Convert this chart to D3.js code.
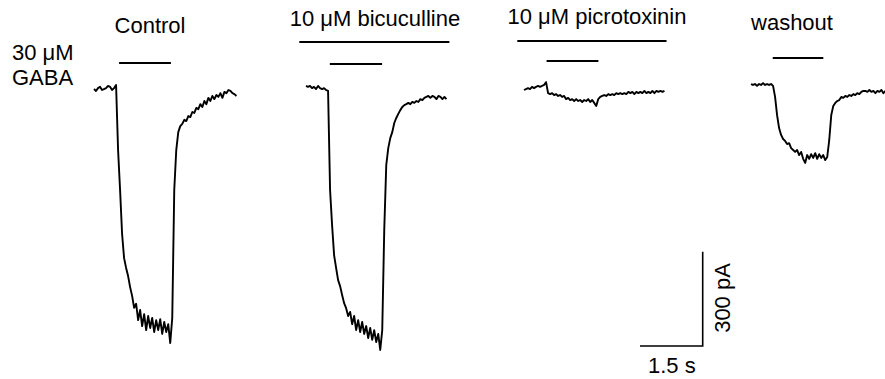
<!DOCTYPE html>
<html lang="en">
<head>
<meta charset="UTF-8">
<title>GABA currents</title>
<script src="https://d3js.org/d3.v7.min.js"></script>
<style>
  body { margin: 0; background: #fff; }
  text { font-family: "Liberation Sans", Arial, sans-serif; font-size: 22px; fill: #000; }
</style>
</head>
<body>
<div id="chart"></div>
<script>

// sampling interval of the traces (s)
var dt = 0.048;

// panel titles
var labels = ["Control", "10 \u03bcM bicuculline", "10 \u03bcM picrotoxinin", "washout"];

// current (pA), one sample every dt
var control = [3, -3, 6, 10, 0, 3, 6, 13, 10, 0, 6, 16,
  -191, -318, -458, -535, -566, -592, -627, -655, -693, -680, -732, -700,
  -751, -713, -764, -719, -757, -725, -770, -732, -764, -729, -776, -738,
  -770, -745, -805, -725, -318, -191, -134, -115, -108, -95, -99, -83,
  -86, -70, -73, -57, -61, -45, -54, -35, -45, -25, -35, -19, -29, -16,
  -22, -10, -25, -6, -10, 0, -3, -10, -13, -19];

var bicuculline = [13, 10, 13, 6, 10, 3, 13, 6, 3, 6, 0, -3,
  -318, -430, -525, -566, -605, -624, -652, -678, -694, -719, -706, -745,
  -719, -764, -732, -770, -738, -776, -751, -789, -757, -795, -764, -802,
  -776, -827, -764, -445, -239, -185, -153, -134, -105, -89, -76, -64,
  -54, -48, -45, -41, -45, -38, -41, -35, -38, -29, -32, -25, -22, -19,
  -25, -19, -22, -29, -19, -22, -29, -22, -29];

var picrotoxinin = [0, 3, 6, 3, 10, 6, 10, 13, 10, 13, 16, 25,
  -10, -13, -10, -16, -13, -19, -16, -22, -19, -29, -25, -32, -29, -35,
  -29, -35, -32, -38, -32, -35, -29, -38, -32, -41, -51, -29, -22, -19,
  -16, -19, -13, -16, -13, -16, -10, -13, -10, -13, -10, -13, -6, -10,
  -6, -13, -6, -10, -6, -10, -3, -10, -6, -10, -3, -10, -3, -6, -3, -6, -3];

var washout = [19, 16, 19, 13, 19, 16, 22, 16, 19, 16, 19, 13,
  -22, -80, -121, -143, -156, -162, -172, -169, -185, -191, -197, -191,
  -207, -197, -219, -232, -207, -219, -204, -216, -201, -219, -204, -216,
  -207, -223, -213, -159, -80, -51, -41, -35, -32, -22, -25, -19, -22,
  -16, -19, -13, -16, -10, -13, -6, -3, -3, -6, 0, -6, -3, -10, -3, -6,
  0, -10, -3];

var traces = [control, bicuculline, picrotoxinin, washout];

// GABA application (s from trace start) and drug application
var gabaOn = [0.60, 0.57, 0.54, 0.52];
var gabaOff = [1.84, 1.82, 1.78, 1.73];
var drugOn = [null, -0.16, -0.16, null];
var drugOff = [null, 3.43, 3.41, null];

// scale bar
var barTime = 1.5, barCurrent = 300;

// layout
var panelX = [94, 306, 524, 751];
var gabaY = [63, 64, 61, 58];
var drugY = [null, 42, 41, null];
var labelX = [150, 375, 597, 792];
var labelY = [33, 26, 24, 30];

var width = 885, height = 379;

var svg = d3.select("#chart")
  .append("svg")
    .attr("width", width)
    .attr("height", height);

// 41.8 px per second, 94.3 px per 300 pA
var x = d3.scaleLinear().domain([0, 1]).range([0, 41.8]);
var y = d3.scaleLinear().domain([0, -300]).range([90, 184.3]);

var line = d3.line()
  .x(function (d, i) { return x(i * dt); })
  .y(function (d) { return y(d); });

var panels = svg.selectAll(".panel")
  .data(traces)
  .enter()
  .append("g")
    .attr("class", "panel")
    .attr("transform", function (d, i) { return "translate(" + panelX[i] + ",0)"; });

panels.append("path")
  .attr("d", line)
  .attr("fill", "none")
  .attr("stroke", "#000")
  .attr("stroke-width", 1.9)
  .attr("stroke-linejoin", "round");

// GABA bars
panels.append("line")
  .attr("x1", function (d, i) { return x(gabaOn[i]); })
  .attr("x2", function (d, i) { return x(gabaOff[i]); })
  .attr("y1", function (d, i) { return gabaY[i]; })
  .attr("y2", function (d, i) { return gabaY[i]; })
  .attr("stroke", "#000")
  .attr("stroke-width", 2);

// drug bars
panels.filter(function (d, i) { return drugOn[i] != null; })
  .append("line")
  .attr("x1", function (d) { return x(drugOn[traces.indexOf(d)]); })
  .attr("x2", function (d) { return x(drugOff[traces.indexOf(d)]); })
  .attr("y1", function (d) { return drugY[traces.indexOf(d)]; })
  .attr("y2", function (d) { return drugY[traces.indexOf(d)]; })
  .attr("stroke", "#000")
  .attr("stroke-width", 2);

// titles
svg.selectAll(".label")
  .data(labels)
  .enter()
  .append("text")
    .attr("class", "label")
    .attr("x", function (d, i) { return labelX[i]; })
    .attr("y", function (d, i) { return labelY[i]; })
    .attr("text-anchor", "middle")
    .text(function (d) { return d; });

svg.append("text").attr("x", 12).attr("y", 60).text("30 \u03bcM");
svg.append("text").attr("x", 12).attr("y", 85).text("GABA");

// scale bar, corner at bottom right
var sb = svg.append("g").attr("transform", "translate(702.7," + (346 - y(0)) + ")");
sb.append("path")
  .attr("d", "M" + (-x(barTime)) + "," + y(0) + "H0V" + y(barCurrent))
  .attr("fill", "none")
  .attr("stroke", "#000")
  .attr("stroke-width", 1.6);
sb.append("text")
  .attr("x", -x(barTime) + 8)
  .attr("y", y(0) + 27)
  .text("1.5 s");
sb.append("text")
  .attr("transform", "translate(27," + (y(0) - 48) + ") rotate(-90)")
  .attr("text-anchor", "middle")
  .text("300 pA");

</script>
</body>
</html>
